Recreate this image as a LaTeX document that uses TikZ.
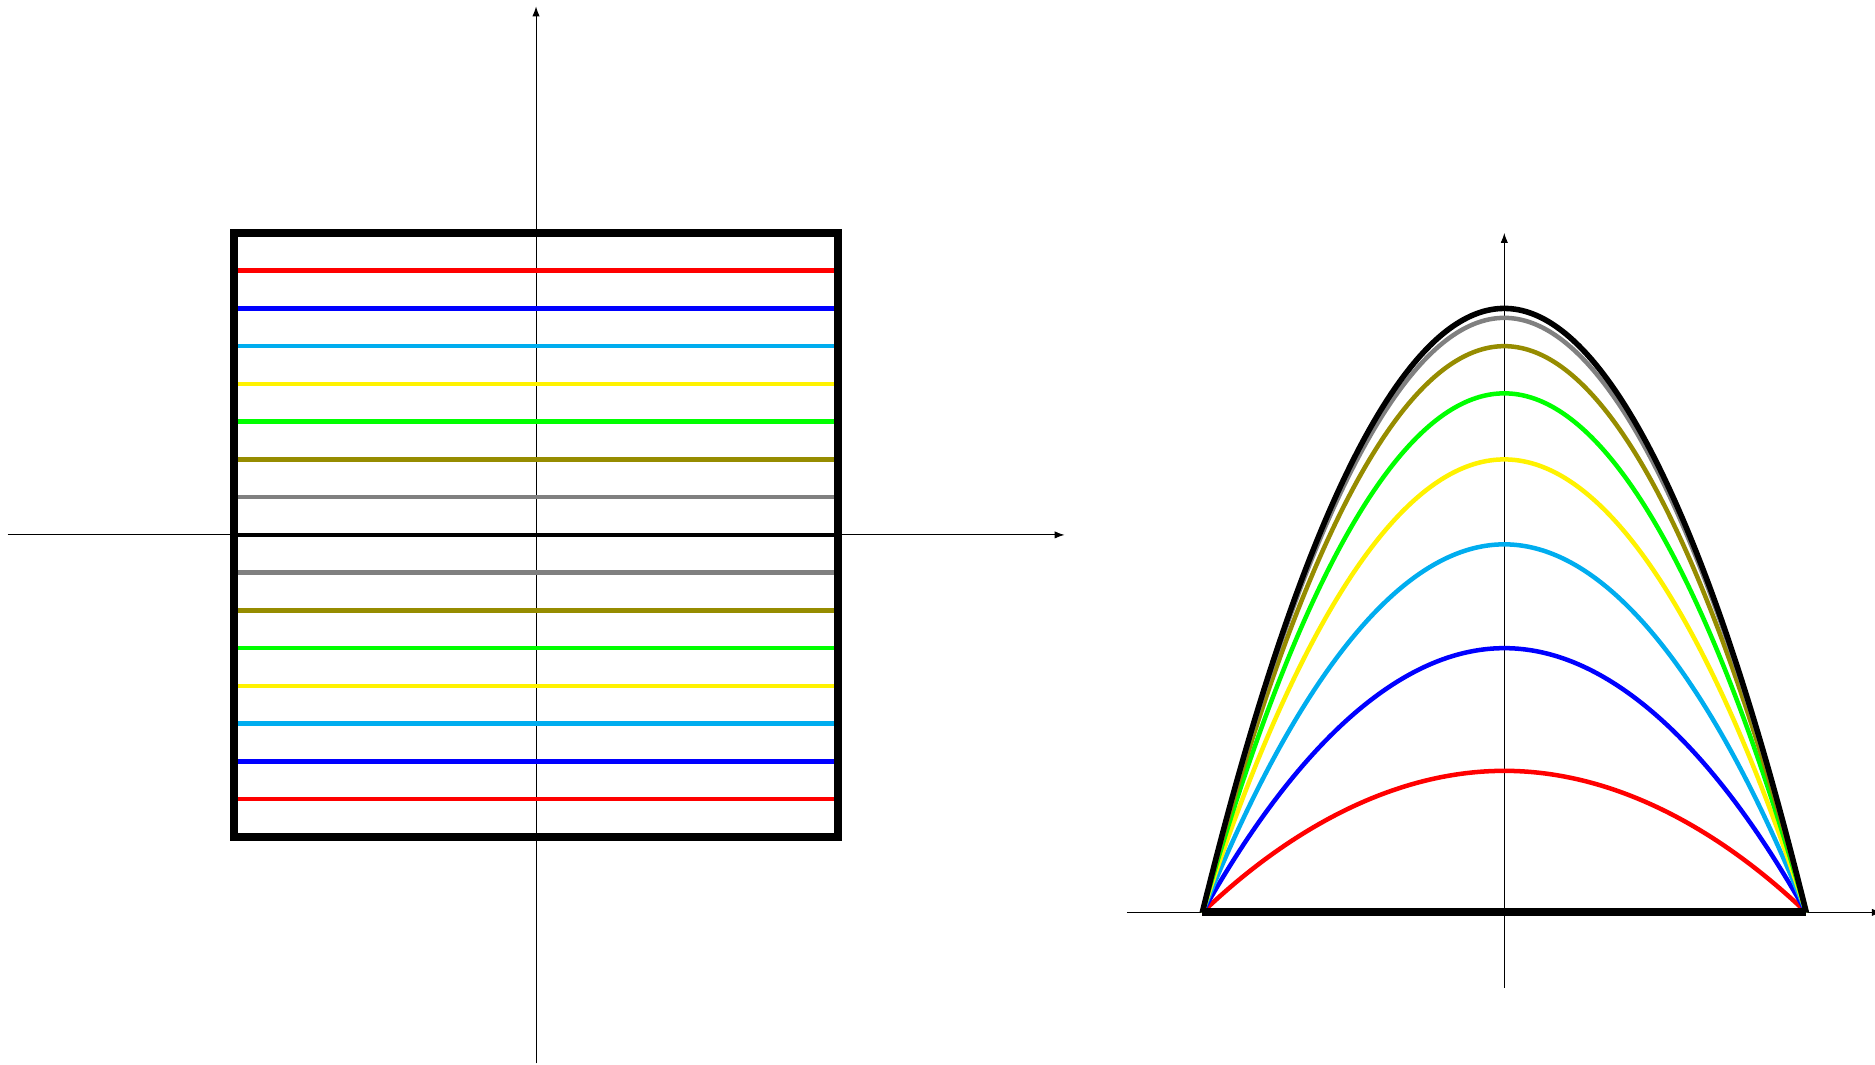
\documentclass[tikz,border=0pt]{standalone}
\usetikzlibrary{arrows.meta}
\definecolor{oliveline}{RGB}{150,140,0}
\begin{document}
\begin{tikzpicture}[axis/.style={line width=0.7pt,-{Latex[length=7.5pt,width=5.5pt]}},
	  level/.style={line width=3.4pt},
	  frame/.style={line width=6pt}]
	  \useasboundingbox (-14.2,-14.02) rectangle (35.47,14.17);
	  
	  \draw[axis] (-14,0) -- (14,0);
	  \draw[axis] (0,-14) -- (0,14);
	  
	  \draw[level, red] (-8,7) -- (8,7);
	  \draw[level, blue] (-8,6) -- (8,6);
	  \draw[level, cyan] (-8,5) -- (8,5);
	  \draw[level, yellow] (-8,4) -- (8,4);
	  \draw[level, green] (-8,3) -- (8,3);
	  \draw[level, oliveline] (-8,2) -- (8,2);
	  \draw[level, gray] (-8,1) -- (8,1);
	  \draw[level, black] (-8,0) -- (8,0);
	  \draw[level, gray] (-8,-1) -- (8,-1);
	  \draw[level, oliveline] (-8,-2) -- (8,-2);
	  \draw[level, green] (-8,-3) -- (8,-3);
	  \draw[level, yellow] (-8,-4) -- (8,-4);
	  \draw[level, cyan] (-8,-5) -- (8,-5);
	  \draw[level, blue] (-8,-6) -- (8,-6);
	  \draw[level, red] (-8,-7) -- (8,-7);
	  \draw[frame] (-8,-8) rectangle (8,8);
	  
	  \begin{scope}[xshift=25.65cm, yshift=-10cm]
	  \draw[axis] (-10,0) -- (10,0);
	  \draw[axis] (0,-2) -- (0,18);
	  
	  \draw[level, red] (-8,0) parabola bend (0,3.75) (8,0);
	  \draw[level, blue] (-8,0) parabola bend (0,7) (8,0);
	  \draw[level, cyan] (-8,0) parabola bend (0,9.75) (8,0);
	  \draw[level, yellow] (-8,0) parabola bend (0,12) (8,0);
	  \draw[level, green] (-8,0) parabola bend (0,13.75) (8,0);
	  \draw[level, oliveline] (-8,0) parabola bend (0,15) (8,0);
	  \draw[level, gray] (-8,0) parabola bend (0,15.75) (8,0);
	  \draw[line width=4.2pt] (-8,0) parabola bend (0,16) (8,0);
	  \draw[frame] (-8,0) -- (8,0);
	  \end{scope}
	\end{tikzpicture}
\end{document}
